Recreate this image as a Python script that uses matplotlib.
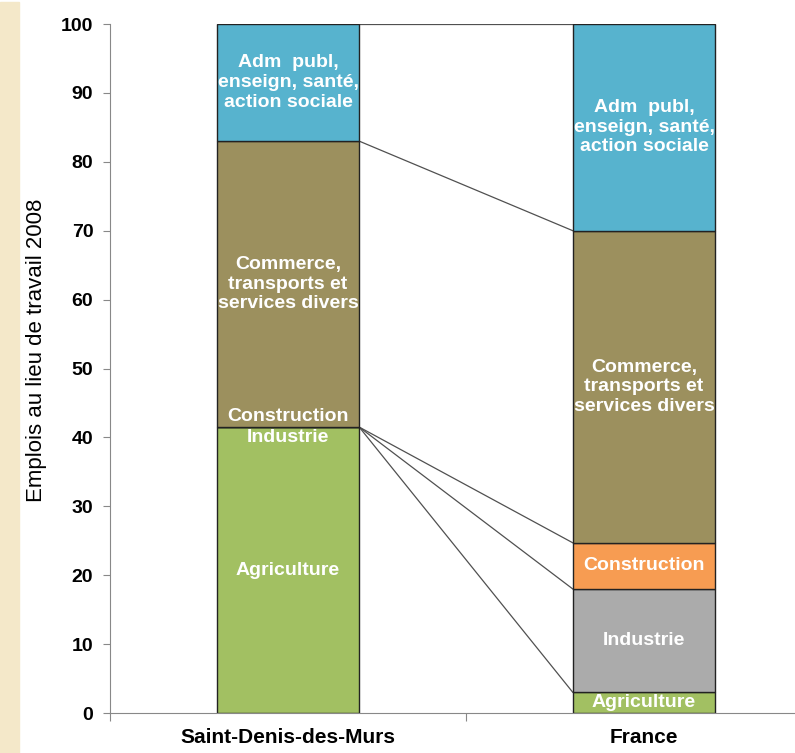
import numpy as np
import matplotlib.pyplot as plt
from matplotlib.patches import Rectangle

plt.rcParams['font.family'] = ['Liberation Sans', 'DejaVu Sans']

places = ["Saint-Denis-des-Murs", "France"]
sectors = ["Agriculture", "Industrie", "Construction",
           "Commerce,\ntransports et\nservices divers",
           "Adm  publ,\nenseign, santé,\naction sociale"]
agriculture = [41.5, 3.0]
industrie = [0.0, 15.0]
construction = [0.0, 6.7]
commerce = [41.5, 45.3]
adm = [17.0, 30.0]
colors = ["#A2C062", "#ABABAB", "#F79C52", "#9C905E", "#57B3CE"]

series = np.array([agriculture, industrie, construction, commerce, adm])

fig = plt.figure(figsize=(7.95, 7.53), dpi=100)
fig.patches.append(Rectangle((0, 0), 19/795, 751/753, transform=fig.transFigure,
                             color="#F4E8C9", zorder=0))
ax = fig.add_axes([110/795, 40/753, 712/795, 689/753])

x = np.arange(len(places))
w = 0.4
bottom = np.zeros(len(places))
for vals, col in zip(series, colors):
    ax.bar(x, vals, w, bottom=bottom, color=col, edgecolor="#222222", lw=1.0, zorder=2)
    bottom = bottom + vals

# connector lines between the bars (top of each series)
tops = np.cumsum(series, axis=0)
for t in tops:
    ax.plot([x[0] + w/2, x[1] - w/2], [t[0], t[1]], color="#505050", lw=0.9, zorder=1)

# labels inside segments
lab = dict(color="white", fontsize=14, fontweight="bold", ha="center", va="center",
           linespacing=1.2, zorder=3)
starts = tops - series
for i, name in enumerate(sectors):
    for j in range(len(places)):
        mid = starts[i, j] + series[i, j] / 2
        if series[i, j] == 0:
            mid = mid + (1.5 if name == "Construction" else -1.5)
        ax.text(x[j], mid, name, **lab)

ax.set_xlim(-0.5, 1.5)
ax.set_ylim(0, 100)
ax.set_yticks(np.arange(0, 101, 10))
ax.set_xticks([-0.5, 0.5, 1.5])
ax.set_xticklabels([])
for j, p in enumerate(places):
    ax.text(x[j], -3.5, p, ha="center", va="center", fontsize=15, fontweight="bold")
ax.tick_params(axis="y", labelsize=14, length=5, color="#888888", pad=7)
ax.tick_params(axis="x", length=6, color="#888888")
for lbl in ax.get_yticklabels():
    lbl.set_fontweight("bold")
fig.text(37/795, 1 - 350/753, "Emplois au lieu de travail 2008", rotation=90,
         ha="center", va="center", fontsize=16)
for s in ["top", "right"]:
    ax.spines[s].set_visible(False)
ax.spines["left"].set_color("#888888")
ax.spines["bottom"].set_color("#888888")

fig.savefig("out.png", dpi=100)
